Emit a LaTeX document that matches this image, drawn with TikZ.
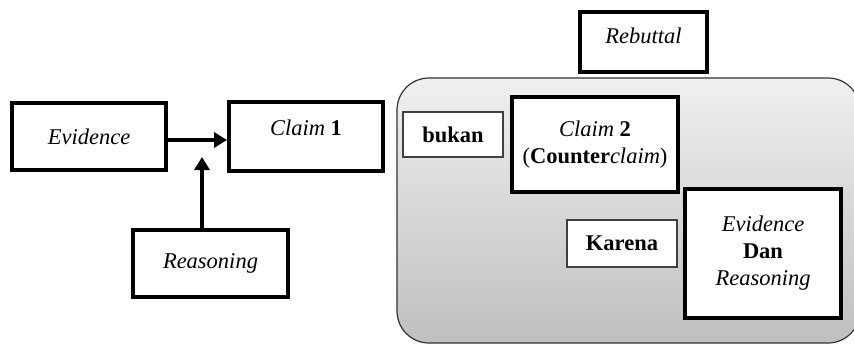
\documentclass[tikz,border=0pt]{standalone}
\usepackage{fontspec}
\setmainfont{Liberation Serif}
\usetikzlibrary{arrows.meta}

\begin{document}
\begin{tikzpicture}[x=1pt, y=-1pt, >={Triangle[length=13pt,width=15pt]},
    thickbox/.style={draw=black, line width=4pt, fill=white, inner sep=0pt, align=center},
    thinbox/.style={draw=black!75, line width=1.2pt, fill=white, inner sep=0pt, align=center},
    font=\fontsize{22.5}{27}\selectfont]
    \useasboundingbox (0,0) rectangle (854,345);

    % left part
    \node[thickbox, minimum width=154, minimum height=67] (evidence) at (89,136.5) {\textit{Evidence}};
    \node[thickbox, minimum width=154, minimum height=69, text height=16pt, text depth=18pt] (claimone) at (306,136.5) {\textit{Claim} \textbf{1}};
    \node[thickbox, minimum width=155, minimum height=67] (reasoning) at (210.5,263.5) {\textit{Reasoning}};
    \coordinate (meet) at (202,157);

    \draw[->, line width=4pt] ([yshift=-3.5]evidence.east) -- ([yshift=-3.5]claimone.west);
    \draw[->, line width=4pt] (reasoning.north -| meet) -- (meet);

    % right part
    \shade[top color=black!6, bottom color=black!25, draw=black!80, line width=1.2pt, rounded corners=32]
        (397,78) rectangle (860,343);
    \node[thickbox, minimum width=127, minimum height=60, text height=16pt, text depth=13pt] (rebuttal) at (643.5,42) {\textit{Rebuttal}};
    \node[thinbox, minimum width=100, minimum height=45] (bukan) at (453,134.5) {\textbf{bukan}};
    \node[thickbox, minimum width=166, minimum height=95] (claimtwo) at (595,144.5) {\textit{Claim} \textbf{2}\\(\textbf{Counter}\textit{claim})};
    \node[thinbox, minimum width=110, minimum height=47] (karena) at (622,243.5) {\textbf{Karena}};
    \node[thickbox, minimum width=156, minimum height=129] (evidencedan) at (763,253.5) {\textit{Evidence}\\\textbf{Dan}\\\textit{Reasoning}};
\end{tikzpicture}
\end{document}
